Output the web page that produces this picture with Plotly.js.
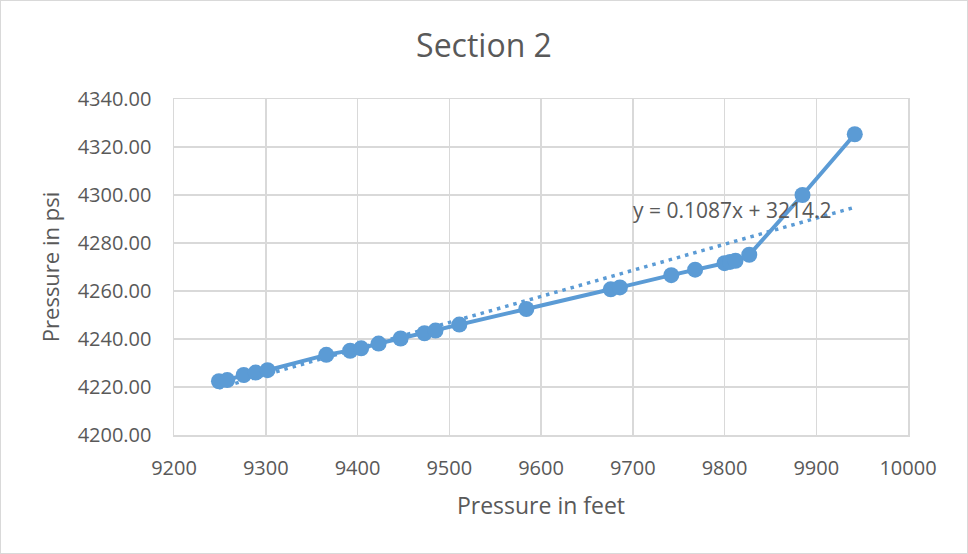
<!DOCTYPE html>
<html>
<head>
<meta charset="utf-8">
<script src="https://cdn.plot.ly/plotly-3.0.1.min.js"></script>
<style>
html,body{margin:0;padding:0;background:#fff;}
#chart{width:968px;height:554px;box-sizing:border-box;border:1px solid #D9D9D9;}
</style>
</head>
<body>
<div id="chart"></div>
<script>
// Depth (labelled "Pressure in feet") and pressure in psi
const depthFeet = [9249, 9258, 9276, 9289, 9302, 9366, 9392, 9404, 9423, 9447, 9473, 9485, 9511, 9584, 9676, 9686, 9742, 9768, 9800, 9806, 9812, 9827, 9885, 9942];
const pressurePsi = [4222.4, 4222.9, 4225.0, 4226.0, 4227.0, 4233.4, 4235.1, 4236.1, 4238.1, 4240.2, 4242.4, 4243.5, 4246.0, 4252.5, 4260.7, 4261.5, 4266.6, 4268.9, 4271.6, 4272.1, 4272.6, 4275.1, 4300.0, 4325.3];
// Linear trendline end points as drawn
const trendX = [9249, 9942];
const trendY = [4219.6, 4294.9];
const trendLabel = "y = 0.1087x + 3214.2";
const xTicks = [9200, 9300, 9400, 9500, 9600, 9700, 9800, 9900, 10000];
const yTicks = [4200, 4220, 4240, 4260, 4280, 4300, 4320, 4340];

const blue = '#5B9BD5';
const textColor = '#595959';
const font = 'Open Sans, Liberation Sans, sans-serif';

const traces = [
  {
    x: trendX, y: trendY, type: 'scatter', mode: 'lines',
    line: {color: blue, width: 3.5, dash: '3.5px,5px'},
    showlegend: false, hoverinfo: 'skip'
  },
  {
    x: depthFeet, y: pressurePsi, type: 'scatter', mode: 'lines+markers',
    line: {color: blue, width: 4},
    marker: {color: blue, size: 16},
    hoverinfo: 'x+y', showlegend: false
  }
];

const layout = {
  width: 966, height: 552,
  margin: {l: 173, r: 59, t: 98, b: 118},
  paper_bgcolor: '#fff', plot_bgcolor: '#fff',
  font: {family: font, color: textColor, size: 20},
  title: {text: 'Section 2', font: {family: font, size: 32, color: textColor}, x: 0.5, xanchor: 'center', y: 0.918, yanchor: 'middle'},
  xaxis: {
    range: [9200, 10000], tickvals: xTicks, ticktext: xTicks.map(String),
    showgrid: true, gridcolor: '#D9D9D9', gridwidth: 1.5,
    showline: true, linecolor: '#D9D9D9', linewidth: 1.5, mirror: true,
    zeroline: false, ticks: '', ticklen: 0, ticklabelstandoff: 14,
    tickfont: {family: font, size: 20, color: textColor},
    title: {text: 'Pressure in feet', font: {family: font, size: 23, color: textColor}, standoff: 18}
  },
  yaxis: {
    range: [4200, 4340], tickvals: yTicks, ticktext: yTicks.map(v => v.toFixed(2)),
    showgrid: true, gridcolor: '#D9D9D9', gridwidth: 1.5,
    showline: true, linecolor: '#D9D9D9', linewidth: 1.5, mirror: true,
    zeroline: false, ticks: '', ticklen: 0, ticklabelstandoff: 17,
    tickfont: {family: font, size: 20, color: textColor},
    title: {text: 'Pressure in psi', font: {family: font, size: 22, color: textColor}, standoff: 12}
  },
  annotations: [{
    x: 9808, y: 4293.8, xref: 'x', yref: 'y', text: trendLabel, showarrow: false,
    font: {family: font, size: 21, color: textColor}, xanchor: 'center', yanchor: 'middle'
  }]
};

Plotly.newPlot('chart', traces, layout, {displayModeBar: false, staticPlot: true});
</script>
</body>
</html>
